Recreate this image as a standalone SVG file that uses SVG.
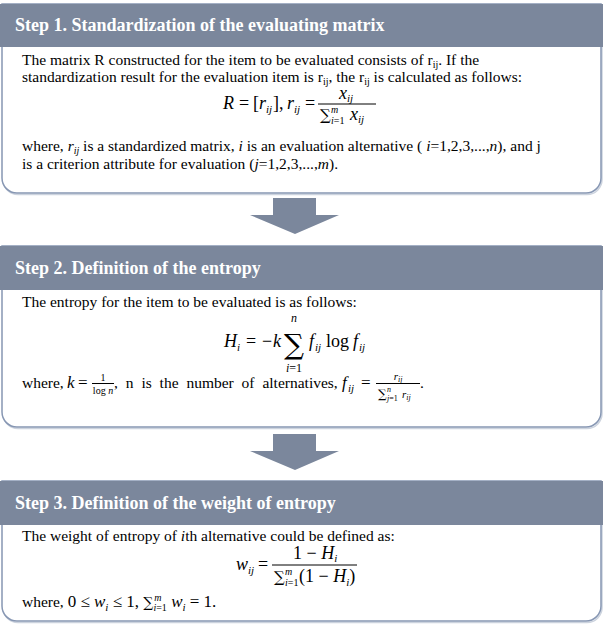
<svg xmlns="http://www.w3.org/2000/svg" width="603" height="625" viewBox="0 0 603 625">
<defs>
<style>
.hdr{fill:#7b879c}
.box{fill:#fff;stroke:#8797b3;stroke-width:1.5}
.shd{fill:none;stroke:#ccd3de;stroke-width:1.5}
.ht{font-family:"Liberation Serif","Times New Roman",serif;font-weight:bold;font-size:18px;fill:#fff}
.t{font-family:"Liberation Serif","Times New Roman",serif;font-size:15.5px;fill:#000}
.m{font-family:"Liberation Serif","Times New Roman",serif;font-size:18px;fill:#000}
.sg{font-family:"DejaVu Serif","DejaVu Sans",serif;fill:#000}
.s{font-size:11px}
.xs{font-size:10px}
.xxs{font-size:8px}
.i{font-style:italic}
.arr{fill:#7b879c}
.bar{stroke:#000;stroke-width:1}
</style>
</defs>
<g id="connectors">
<path class="arr" d="M273,198 H316 V215 H339 L295,234 L250,215 H273 Z"/>
<path class="arr" d="M273,434 H316 V451 H339 L295,470 L250,451 H273 Z"/>
</g>
<g id="step1">
<path class="shd" d="M3,6 H602 V179 A15,15 0 0 1 587,194.5 H18 A15,15 0 0 1 3,179 Z"/>
<path class="box" d="M2,4 H601 V178 A15,15 0 0 1 586,193 H17 A15,15 0 0 1 2,178 Z"/>
<rect class="hdr" x="0" y="4" width="603" height="43"/>
<text class="ht" x="15" y="31">Step 1. Standardization of the evaluating matrix</text>
<text class="t" x="22" y="65">The matrix R constructed for the item to be evaluated consists of r<tspan class="xs" dy="3">ij</tspan><tspan dy="-3">. If the</tspan></text>
<text class="t" x="22" y="82">standardization result for the evaluation item is r<tspan class="xs" dy="3">ij</tspan><tspan dy="-3">, the r</tspan><tspan class="xs" dy="3">ij</tspan><tspan dy="-3"> is calculated as follows:</tspan></text>
<text class="m" y="109"><tspan x="223" class="i">R</tspan><tspan x="239">=</tspan><tspan x="253">[</tspan><tspan x="259" class="i">r</tspan><tspan x="266" class="s i" dy="4">ij</tspan><tspan x="273" dy="-4">]</tspan><tspan x="279">,</tspan><tspan x="287" class="i">r</tspan><tspan x="294" class="s i" dy="4">ij</tspan><tspan x="305" dy="-4">=</tspan></text>
<line class="bar" x1="318" y1="104" x2="376" y2="104"/>
<text class="m" y="99"><tspan x="339" class="i">x</tspan><tspan x="347" class="s i" dy="3">ij</tspan></text>
<text class="sg" x="320" y="120" style="font-size:15px">∑</text>
<text class="m i xs" x="331" y="113">m</text>
<text class="m xs" x="331" y="124"><tspan class="i">i</tspan>=1</text>
<text class="m" y="120"><tspan x="350" class="i">x</tspan><tspan x="358" class="s i" dy="3">ij</tspan></text>
<text class="t" x="22" y="151">where, <tspan class="i">r</tspan><tspan class="xs i" dy="3">ij</tspan><tspan dy="-3"> is a standardized matrix, </tspan><tspan class="i">i</tspan> is an evaluation alternative ( <tspan class="i">i</tspan>=1,2,3,...,<tspan class="i">n</tspan>), and j</text>
<text class="t" x="22" y="169">is a criterion attribute for evaluation (<tspan class="i">j</tspan>=1,2,3,...,<tspan class="i">m</tspan>).</text>
</g>
<g id="step2">
<path class="shd" d="M3,248 H602 V413 A15,15 0 0 1 587,428.5 H18 A15,15 0 0 1 3,413 Z"/>
<path class="box" d="M2,246 H601 V412 A15,15 0 0 1 586,427 H17 A15,15 0 0 1 2,412 Z"/>
<rect class="hdr" x="0" y="246" width="603" height="44"/>
<text class="ht" x="15" y="274">Step 2. Definition of the entropy</text>
<text class="t" x="22" y="307">The entropy for the item to be evaluated is as follows:</text>
<text class="m" y="347"><tspan x="224" class="i">H</tspan><tspan x="237" class="s i" dy="4">i</tspan><tspan x="246" dy="-4">=</tspan><tspan x="262">−</tspan><tspan x="273" class="i">k</tspan></text>
<text class="sg" x="294" y="354" style="font-size:28px" text-anchor="middle">∑</text>
<text class="m i" x="294" y="322" style="font-size:12px" text-anchor="middle">n</text>
<text class="m" x="294" y="372" style="font-size:12px" text-anchor="middle"><tspan class="i">i</tspan>=1</text>
<text class="m" y="347"><tspan x="309" class="i">f</tspan><tspan x="315" class="s i" dy="4">ij</tspan><tspan x="326" dy="-4">log</tspan><tspan x="353" class="i">f</tspan><tspan x="359" class="s i" dy="4">ij</tspan></text>
<text class="t" x="22" y="388">where,</text>
<text class="m" y="388" style="font-size:17px"><tspan x="67" class="i">k</tspan><tspan x="78">=</tspan></text>
<line class="bar" x1="92" y1="383.5" x2="114" y2="383.5"/>
<text class="m xs" x="103" y="381" text-anchor="middle">1</text>
<text class="m xs" x="103" y="394" text-anchor="middle">log <tspan class="i">n</tspan></text>
<text class="t" x="114" y="388" word-spacing="4">, n is the number of alternatives,</text>
<text class="m" y="388" style="font-size:17px"><tspan x="342" class="i">f</tspan><tspan x="348" class="s i" dy="4">ij</tspan><tspan x="361" dy="-4">=</tspan></text>
<line class="bar" x1="376" y1="383.5" x2="420" y2="383.5"/>
<text class="m s i" x="398" y="380" text-anchor="middle">r<tspan class="xxs" dy="2">ij</tspan></text>
<text class="sg" x="378" y="398" style="font-size:12px">∑</text>
<text class="m i xxs" x="387" y="392">n</text>
<text class="m xxs" x="387" y="401"><tspan class="i">j</tspan>=1</text>
<text class="m s i" x="402" y="398">r<tspan class="xxs" dy="2">ij</tspan></text>
<text class="t" x="420" y="388">.</text>
</g>
<g id="step3">
<path class="shd" d="M3,483 H602 V607 A15,15 0 0 1 587,622.5 H18 A15,15 0 0 1 3,607 Z"/>
<path class="box" d="M2,481 H601 V606 A15,15 0 0 1 586,621 H17 A15,15 0 0 1 2,606 Z"/>
<rect class="hdr" x="0" y="481" width="603" height="44"/>
<text class="ht" x="15" y="509">Step 3. Definition of the weight of entropy</text>
<text class="t" x="22" y="541">The weight of entropy of <tspan class="i">i</tspan>th alternative could be defined as:</text>
<text class="m" y="570"><tspan x="236" class="i">w</tspan><tspan x="248" class="s i" dy="4">ij</tspan><tspan x="258" dy="-4">=</tspan></text>
<line class="bar" x1="272" y1="565" x2="357" y2="565"/>
<text class="m" x="293" y="559">1 − <tspan class="i">H</tspan><tspan class="s i" dy="3">i</tspan></text>
<text class="sg" x="274" y="582" style="font-size:15px">∑</text>
<text class="m i xs" x="285" y="575">m</text>
<text class="m xs" x="285" y="586"><tspan class="i">i</tspan>=1</text>
<text class="m" x="299" y="582">(1 − <tspan class="i">H</tspan><tspan class="s i" dy="4">i</tspan><tspan dy="-4">)</tspan></text>
<text class="t" x="22" y="607">where, <tspan class="m" style="font-size:17px">0 ≤ </tspan><tspan class="m i" style="font-size:17px">w</tspan><tspan class="s i" dy="4">i</tspan><tspan class="m" style="font-size:17px" dy="-4"> ≤ 1, </tspan><tspan class="sg" style="font-size:14px">∑</tspan><tspan class="xs i" dx="1" dy="-6">m</tspan><tspan class="xs" dx="-8" dy="10"><tspan class="i">i</tspan>=1</tspan><tspan class="m i" style="font-size:17px" dy="-4"> w</tspan><tspan class="s i" dy="4">i</tspan><tspan class="m" style="font-size:17px" dy="-4"> = 1.</tspan></text>
</g>
</svg>
